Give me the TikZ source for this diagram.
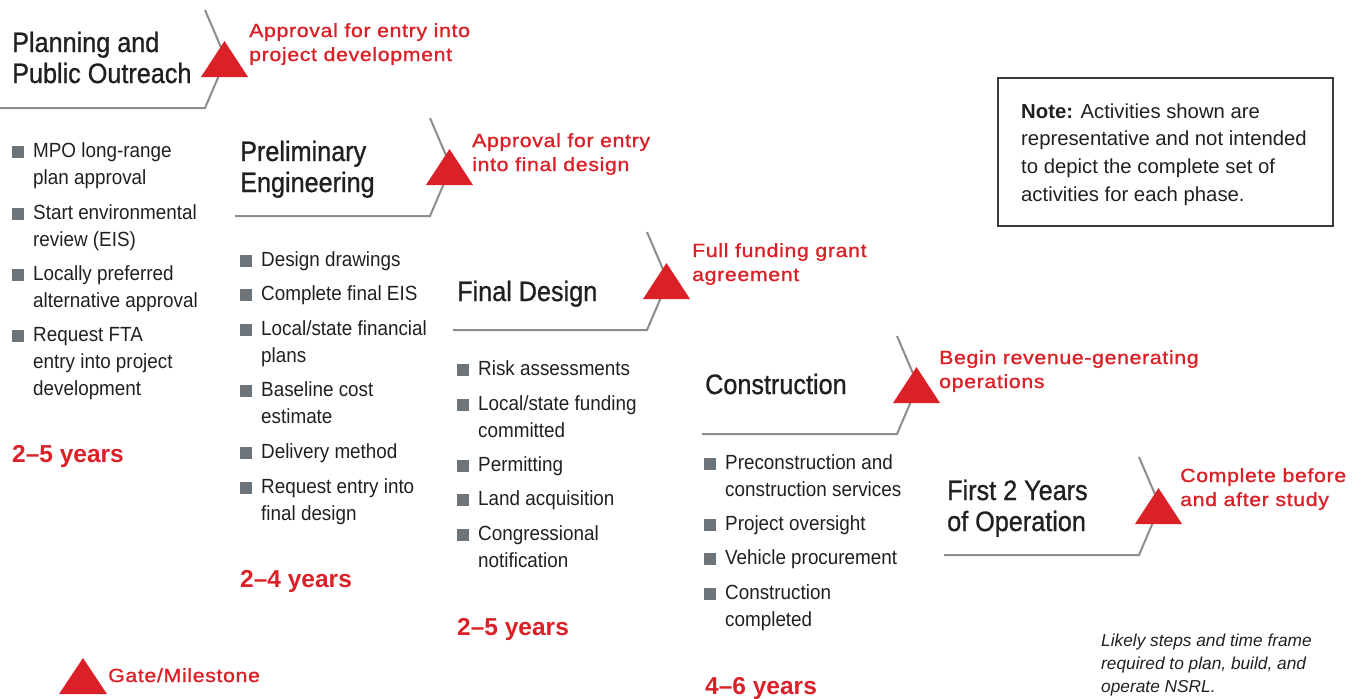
\documentclass[tikz,border=0pt]{standalone}
\usepackage{fontspec}
\setmainfont{Liberation Sans}
\newfontfamily\condf[FakeStretch=0.92]{Liberation Sans}
\newfontfamily\ttlf[FakeStretch=0.9,FakeBold=0.9]{Liberation Sans}
\newfontfamily\redf[FakeStretch=1.12,LetterSpace=3.5,FakeBold=1.2]{Liberation Sans}
\definecolor{tx}{HTML}{231F20}
\definecolor{rd}{HTML}{DA2128}
\definecolor{bg}{HTML}{6D757A}
\definecolor{ln}{HTML}{8A8C8E}
\definecolor{bx}{HTML}{3A3A3A}
\tikzset{
  ttl/.style={anchor=base west, inner sep=0pt, text=tx, font=\ttlf\fontsize{28}{31}\selectfont},
  bul/.style={anchor=base west, inner sep=0pt, text=tx, font=\condf\fontsize{20.5}{27}\selectfont},
  rlab/.style={anchor=base west, inner sep=0pt, text=rd, font=\redf\fontsize{19}{24}\selectfont},
  yrs/.style={anchor=base west, inner sep=0pt, text=rd, font=\bfseries\fontsize{24.5}{28}\selectfont},
  note/.style={anchor=base west, inner sep=0pt, text=tx, font=\fontsize{20.3}{27}\selectfont},
  ital/.style={anchor=base west, inner sep=0pt, text=tx, font=\itshape\fontsize{17.3}{23}\selectfont},
  gl/.style={draw=ln, line width=2pt},
}
\newcommand\phaseline[3]{% start x, corner x, bottom y
  \draw[gl] (#1,#3) -- (#2,#3) -- (#2+21,#3-49) -- (#2,#3-98);
  \fill[rd] (#2-4,#3-31) -- (#2+19.5,#3-67) -- (#2+43,#3-31) -- cycle;}
\newcommand\bsq[2]{\fill[bg] (#1-21,#2-11) rectangle (#1-9,#2+1);}
\begin{document}
\begin{tikzpicture}[x=1pt,y=-1pt]
\useasboundingbox (0,0) rectangle (1361,699);

% phase lines and gates
\phaseline{0}{205}{108}
\phaseline{235}{430}{216}
\phaseline{453}{647}{330}
\phaseline{702}{897}{434}
\phaseline{944}{1139}{555}

% Phase 1
\node[ttl] (t1a) at (12,52) {Planning and};
\node[ttl] (t1b) at (12,83) {Public Outreach};
\node[rlab] (r1a) at (249,37) {Approval for entry into};
\node[rlab] (r1b) at (249,61) {project development};
\bsq{33}{157}\node[bul] (b1a) at (33,157) {MPO long-range};
\node[bul] (b1a2) at (33,184) {plan approval};
\bsq{33}{219}\node[bul] (b1b) at (33,219) {Start environmental};
\node[bul] (b1b2) at (33,246) {review (EIS)};
\bsq{33}{280}\node[bul] (b1c) at (33,280) {Locally preferred};
\node[bul] (b1c2) at (33,307) {alternative approval};
\bsq{33}{341}\node[bul] (b1d) at (33,341) {Request FTA};
\node[bul] (b1d2) at (33,368) {entry into project};
\node[bul] (b1d3) at (33,395) {development};
\node[yrs] (y1) at (12,462) {2–5 years};

% Phase 2
\node[ttl] (t2a) at (240,161) {Preliminary};
\node[ttl] (t2b) at (240,192) {Engineering};
\node[rlab] (r2a) at (472,147) {Approval for entry};
\node[rlab] (r2b) at (472,171) {into final design};
\bsq{261}{266}\node[bul] (b2a) at (261,266) {Design drawings};
\bsq{261}{300}\node[bul] (b2b) at (261,300) {Complete final EIS};
\bsq{261}{335}\node[bul] (b2c) at (261,335) {Local/state financial};
\node[bul] (b2c2) at (261,362) {plans};
\bsq{261}{396}\node[bul] (b2d) at (261,396) {Baseline cost};
\node[bul] (b2d2) at (261,423) {estimate};
\bsq{261}{458}\node[bul] (b2e) at (261,458) {Delivery method};
\bsq{261}{493}\node[bul] (b2f) at (261,493) {Request entry into};
\node[bul] (b2f2) at (261,520) {final design};
\node[yrs] (y2) at (240,587) {2–4 years};

% Phase 3
\node[ttl] (t3a) at (457,301) {Final Design};
\node[rlab] (r3a) at (692,257) {Full funding grant};
\node[rlab] (r3b) at (692,281) {agreement};
\bsq{478}{375}\node[bul] (b3a) at (478,375) {Risk assessments};
\bsq{478}{410}\node[bul] (b3b) at (478,410) {Local/state funding};
\node[bul] (b3b2) at (478,437) {committed};
\bsq{478}{471}\node[bul] (b3c) at (478,471) {Permitting};
\bsq{478}{505}\node[bul] (b3d) at (478,505) {Land acquisition};
\bsq{478}{540}\node[bul] (b3e) at (478,540) {Congressional};
\node[bul] (b3e2) at (478,567) {notification};
\node[yrs] (y3) at (457,635) {2–5 years};

% Phase 4
\node[ttl] (t4a) at (705,394) {Construction};
\node[rlab] (r4a) at (939,364) {Begin revenue-generating};
\node[rlab] (r4b) at (939,388) {operations};
\bsq{725}{469}\node[bul] (b4a) at (725,469) {Preconstruction and};
\node[bul] (b4a2) at (725,496) {construction services};
\bsq{725}{530}\node[bul] (b4b) at (725,530) {Project oversight};
\bsq{725}{564}\node[bul] (b4c) at (725,564) {Vehicle procurement};
\bsq{725}{599}\node[bul] (b4d) at (725,599) {Construction};
\node[bul] (b4d2) at (725,626) {completed};
\node[yrs] (y4) at (705,694) {4–6 years};

% Phase 5
\node[ttl] (t5a) at (947,500) {First 2 Years};
\node[ttl] (t5b) at (947,531) {of Operation};
\node[rlab] (r5a) at (1180,482) {Complete before};
\node[rlab] (r5b) at (1180,506) {and after study};

% Note box
\draw[draw=bx, line width=1.5pt] (998,78) rectangle (1333,226);
\node[note] (n1) at (1021,118) {\textbf{Note:} Activities shown are};
\node[note] (n2) at (1021,145) {representative and not intended};
\node[note] (n3) at (1021,173) {to depict the complete set of};
\node[note] (n4) at (1021,201) {activities for each phase.};

% Legend
\fill[rd] (59,694) -- (83,658) -- (107,694) -- cycle;
\node[rlab] (leg) at (108,682) {Gate/Milestone};

% Caption
\node[ital] (c1) at (1101,646) {Likely steps and time frame};
\node[ital] (c2) at (1101,669) {required to plan, build, and};
\node[ital] (c3) at (1101,692) {operate NSRL.};
\end{tikzpicture}
\end{document}
